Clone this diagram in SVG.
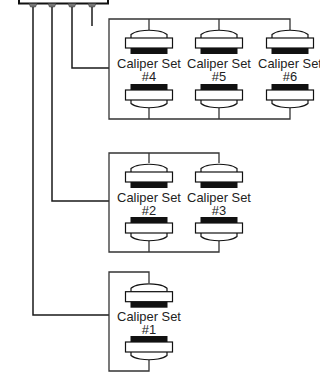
<svg xmlns="http://www.w3.org/2000/svg" width="320" height="372" viewBox="0 0 320 372">
<style>
.l{fill:none;stroke:#333;stroke-width:1.3}
.c{fill:none;stroke:#1a1a1a;stroke-width:1.5}
.b{fill:#fff;stroke:#111;stroke-width:1.2}
.k{fill:#111}
.f{fill:#777;stroke:#333;stroke-width:.5}
text{font-family:"Liberation Sans",Arial,sans-serif;font-size:12.9px;fill:#222;text-anchor:middle}
</style>
<defs>
<g id="pad">
<path class="b" d="M-18 10V6Q-15 3.500 -9 2.500Q0 1 9 2.500Q15 3.500 18 6V10Z"/>
<rect class="b" x="-23.500" y="9.500" width="47" height="10"/>
<rect class="k" x="-18.500" y="19.500" width="37" height="6"/>
</g>
<g id="fit"><path class="f" d="M-4 3.500H4L2.500 7H-2.500Z"/></g>
</defs>
<g id="connectors">
<path class="c" d="M33 7V315H109"/>
<path class="c" d="M52 7V201H109"/>
<path class="c" d="M72 7V68H109"/>
<path class="c" d="M92 7V26"/>
<path class="l" d="M149 30V19H109V119H290V108M290 30V19H149M219 19V30M149 108V119M219 108V119"/>
<path class="l" d="M149 163V153H109V252H219V241M219 163V153H149M149 241V252"/>
<path class="l" d="M149 283V272H109V371H149V360"/>
</g>
<g id="manifold">
<path d="M19 0V3.500H108V0" fill="none" stroke="#111" stroke-width="2"/>
<use href="#fit" x="33"/><use href="#fit" x="52"/><use href="#fit" x="72"/><use href="#fit" x="92"/>
</g>
<g id="caliper-4"><use href="#pad" transform="translate(149 28.500)"/><use href="#pad" transform="translate(149 109.500) scale(1 -1)"/><text x="149" y="68">Caliper Set</text><text x="149" y="81">#4</text></g>
<g id="caliper-5"><use href="#pad" transform="translate(219 28.500)"/><use href="#pad" transform="translate(219 109.500) scale(1 -1)"/><text x="219" y="68">Caliper Set</text><text x="219" y="81">#5</text></g>
<g id="caliper-6"><use href="#pad" transform="translate(290 28.500)"/><use href="#pad" transform="translate(290 109.500) scale(1 -1)"/><text x="290" y="68">Caliper Set</text><text x="290" y="81">#6</text></g>
<g id="caliper-2"><use href="#pad" transform="translate(149 162.500)"/><use href="#pad" transform="translate(149 242.500) scale(1 -1)"/><text x="149" y="202">Caliper Set</text><text x="149" y="214.500">#2</text></g>
<g id="caliper-3"><use href="#pad" transform="translate(219 162.500)"/><use href="#pad" transform="translate(219 242.500) scale(1 -1)"/><text x="219" y="202">Caliper Set</text><text x="219" y="214.500">#3</text></g>
<g id="caliper-1"><use href="#pad" transform="translate(149 282.200)"/><use href="#pad" transform="translate(149 361.500) scale(1 -1)"/><text x="149" y="321">Caliper Set</text><text x="149" y="334">#1</text></g>
</svg>
